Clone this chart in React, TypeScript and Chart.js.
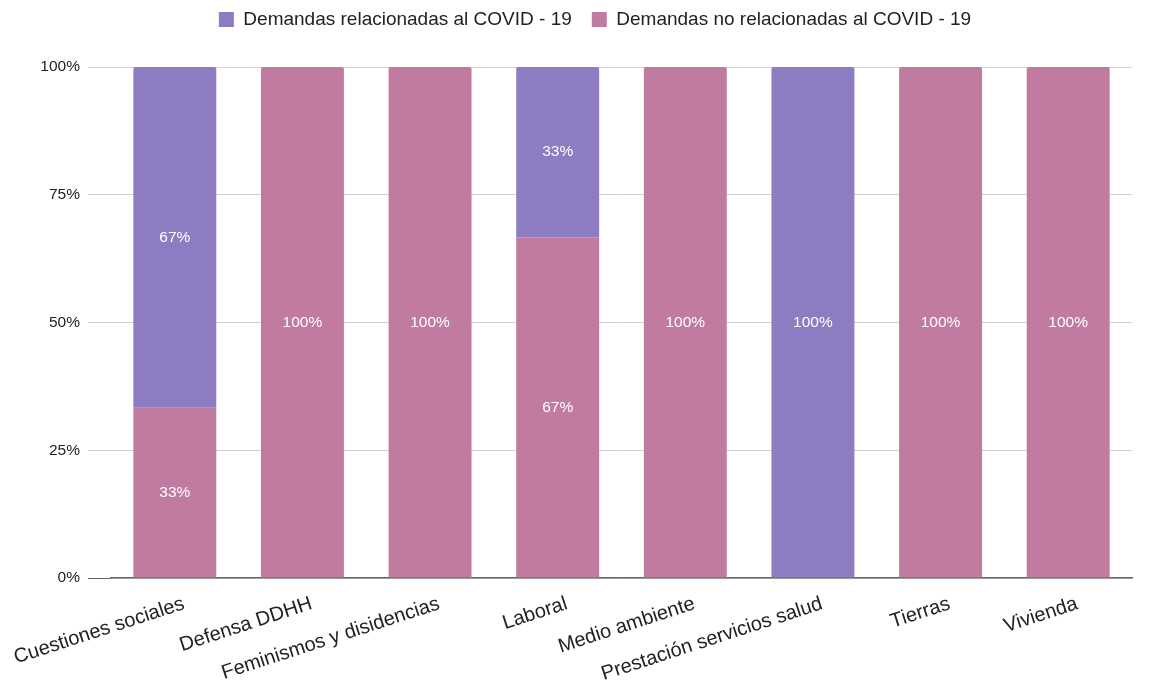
import React, { useEffect, useRef } from "react";
import { Chart, registerables } from "chart.js";

Chart.register(...registerables);

const categories = [
  "Cuestiones sociales",
  "Defensa DDHH",
  "Feminismos y disidencias",
  "Laboral",
  "Medio ambiente",
  "Prestación servicios salud",
  "Tierras",
  "Vivienda",
];
const covidRelated = [66.67, 0, 0, 33.33, 0, 100, 0, 0];
const notCovidRelated = [33.33, 100, 100, 66.67, 100, 0, 100, 100];
const yTicks = [0, 25, 50, 75, 100];

const FONT = "'Liberation Sans', Arial, Helvetica, sans-serif";

const valueLabels = {
  id: "valueLabels",
  afterDatasetsDraw(chart: any) {
    const ctx = chart.ctx;
    ctx.save();
    ctx.font = `15.5px ${FONT}`;
    ctx.fillStyle = "#ffffff";
    ctx.textAlign = "center";
    ctx.textBaseline = "middle";
    chart.data.datasets.forEach((ds: any, di: number) => {
      const meta = chart.getDatasetMeta(di);
      meta.data.forEach((el: any, i: number) => {
        const v = ds.data[i];
        if (!v) return;
        const p = el.getCenterPoint();
        ctx.fillText(Math.round(v) + "%", p.x, p.y);
      });
    });
    ctx.restore();
  },
};

const legendSpace = {
  id: "legendSpace",
  beforeInit(chart: any) {
    const lg = chart.legend;
    if (!lg) return;
    const orig = lg.fit.bind(lg);
    lg.fit = function () {
      orig();
      this.height = 77;
    };
  },
  afterLayout(chart: any) {
    const lg = chart.legend;
    if (!lg) return;
    lg.left += 9;
    lg.right += 9;
  },
};

export default function App() {
  const ref = useRef<HTMLCanvasElement | null>(null);
  useEffect(() => {
    if (!ref.current) return;
    const chart = new Chart(ref.current, {
      type: "bar",
      data: {
        labels: categories,
        datasets: [
          {
            label: "Demandas no relacionadas al COVID - 19",
            data: notCovidRelated,
            backgroundColor: "#c27ba0",
            barPercentage: 0.65,
            categoryPercentage: 1,
            borderRadius: 2,
          },
          {
            label: "Demandas relacionadas al COVID - 19",
            data: covidRelated,
            backgroundColor: "#8e7cc3",
            barPercentage: 0.65,
            categoryPercentage: 1,
            borderRadius: 2,
          },
        ],
      },
      options: {
        animation: false,
        responsive: true,
        maintainAspectRatio: false,
        layout: { padding: { left: 40, right: 18, top: -10, bottom: 0 } },
        plugins: {
          tooltip: { enabled: false },
          legend: {
            position: "top",
            reverse: true,
            labels: {
              boxWidth: 15,
              boxHeight: 15,
              padding: 20,
              color: "#222222",
              font: { family: FONT, size: 19 },
            },
          },
        },
        scales: {
          x: {
            stacked: true,
            grid: { display: false, drawTicks: false },
            border: { display: true, color: "#666666", width: 1.5 },
            afterFit: (axis: any) => {
              axis.paddingLeft = 0;
              axis.paddingRight = 0;
              axis.height = 110;
            },
            ticks: {
              autoSkip: false,
              minRotation: 18,
              maxRotation: 18,
              padding: 14,
              labelOffset: 9,
              color: "#222222",
              font: { family: FONT, size: 20 },
            },
          },
          y: {
            stacked: true,
            min: 0,
            max: 100,
            afterFit: (axis: any) => {
              axis.width = 71;
            },
            afterBuildTicks: (axis: any) => {
              axis.ticks = yTicks.map((v) => ({ value: v }));
            },
            grid: {
              color: "#d0d0d0",
              tickLength: 23,
              tickColor: (c: any) => (c.tick && c.tick.value === 0 ? "#666666" : "#d0d0d0"),
            },
            border: { display: false },
            ticks: {
              padding: 8,
              color: "#222222",
              font: { family: FONT, size: 15.5 },
              callback: (v: any) => v + "%",
            },
          },
        },
      },
      plugins: [valueLabels, legendSpace],
    });
    return () => chart.destroy();
  }, []);
  return (
    <div style={{ position: "fixed", left: 0, top: 0, width: 1150, height: 688, background: "#fff" }}>
      <canvas ref={ref} />
    </div>
  );
}
